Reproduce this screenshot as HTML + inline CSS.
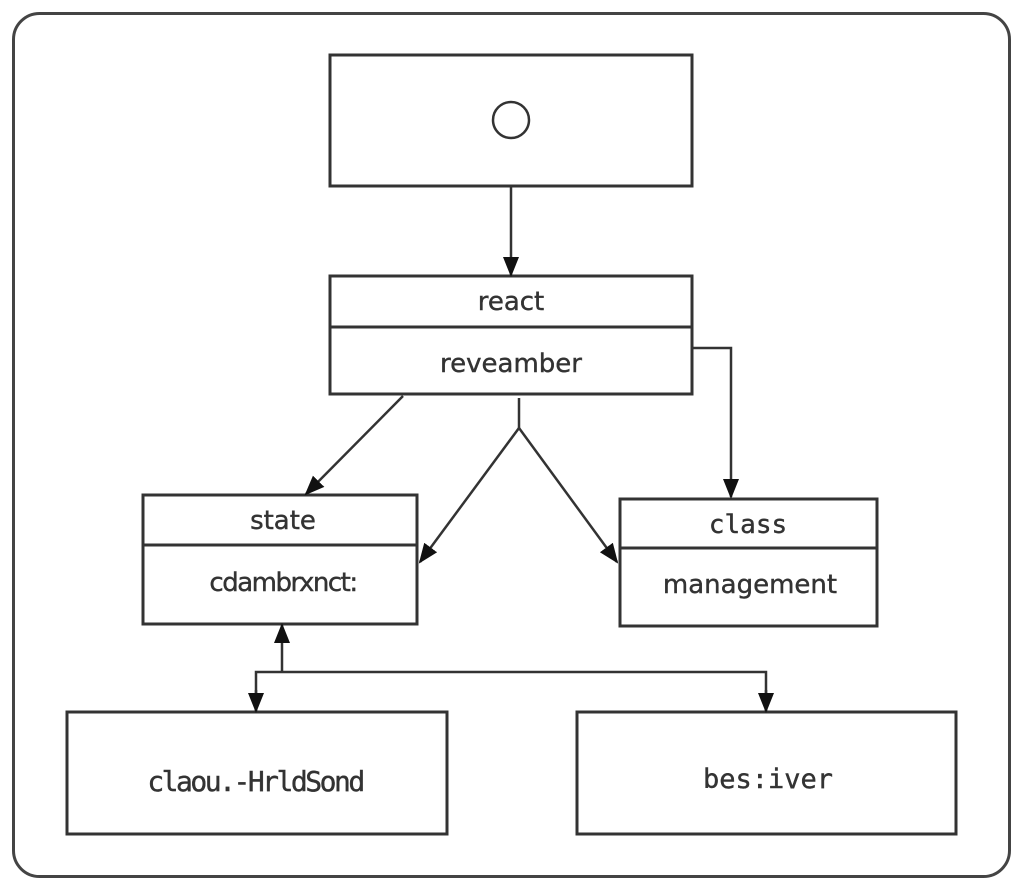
<!DOCTYPE html>
<html><head><meta charset="utf-8"><style>html,body{margin:0;padding:0;background:#fff}svg{display:block}</style></head>
<body>
<svg width="1024" height="889" viewBox="0 0 1024 889" xmlns="http://www.w3.org/2000/svg">
<defs>
<marker id="b" markerWidth="20" markerHeight="20" refX="18" refY="10" orient="auto" markerUnits="userSpaceOnUse" viewBox="0 0 20 20"><path d="M0,2 L20,10 L0,18 z" fill="#111"/></marker></defs>
<rect x="13.5" y="13.5" width="996" height="863" rx="26" fill="#fff" stroke="#444" stroke-width="3"/>
<g fill="#fff" stroke="#333" stroke-width="3">
<rect x="330" y="55" width="362" height="131"/>
<circle cx="511" cy="120" r="18" stroke-width="2.5"/>
<rect x="330" y="276" width="362" height="118"/><line x1="330" y1="327" x2="692" y2="327"/>
<rect x="143" y="495" width="274" height="129"/><line x1="143" y1="545" x2="417" y2="545"/>
<rect x="620" y="499" width="257" height="127"/><line x1="620" y1="548" x2="877" y2="548"/>
<rect x="67" y="712" width="380" height="122"/>
<rect x="577" y="712" width="379" height="122"/>
</g>
<g fill="none" stroke="#333" stroke-width="2.5">
<line x1="511" y1="186" x2="511" y2="275" marker-end="url(#b)"/>
<polyline points="692,348 731,348 731,497" marker-end="url(#b)"/>
<line x1="403" y1="396" x2="306" y2="494" marker-end="url(#b)"/>
<polyline points="519,398 519,428"/>
<line x1="519" y1="428" x2="420" y2="562" marker-end="url(#b)"/>
<line x1="519" y1="428" x2="617" y2="562" marker-end="url(#b)"/>
<line x1="282" y1="672" x2="282" y2="625" marker-end="url(#b)"/>
<polyline points="256,711 256,672 766,672 766,711"/>
<line x1="256" y1="690" x2="256" y2="711" marker-end="url(#b)"/>
<line x1="766" y1="690" x2="766" y2="711" marker-end="url(#b)"/>
</g>
<g font-family="DejaVu Sans, Liberation Sans, sans-serif" font-size="26" fill="#333" text-anchor="middle" stroke="#333" stroke-width="0.4">
<text x="511" y="310">react</text>
<text x="511" y="372">reveamber</text>
<text x="283" y="529">state</text>
<text x="283" y="591" letter-spacing="-1.5">cdambrxnct:</text>
<text x="748" y="533" font-family="DejaVu Sans Mono, monospace">class</text>
<text x="750" y="593">management</text>
<text x="255" y="791" font-family="DejaVu Sans Mono, monospace" font-size="28" letter-spacing="-2.5">claou.-HrldSond</text>
<text x="768" y="788" font-family="DejaVu Sans Mono, monospace" font-size="27">bes:iver</text>
</g>
</svg>
</body></html>
